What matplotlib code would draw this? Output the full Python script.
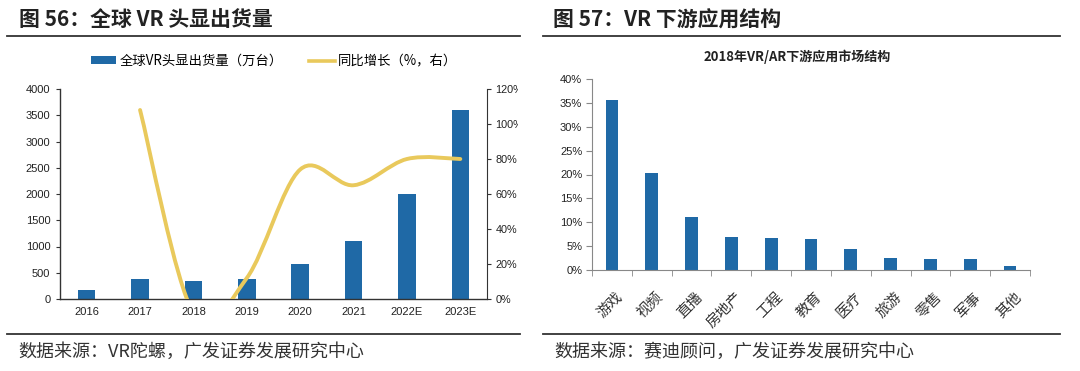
import numpy as np
import matplotlib
matplotlib.use("Agg")
import matplotlib.pyplot as plt
from matplotlib.path import Path
from matplotlib.patches import PathPatch, Patch
from matplotlib.lines import Line2D
from matplotlib.transforms import Bbox, TransformedBbox

plt.rcParams['font.family'] = ['Noto Sans CJK SC', 'DejaVu Sans']

# ---------------- data ----------------
years = ["2016", "2017", "2018", "2019", "2020", "2021", "2022E", "2023E"]
shipments = [180, 380, 350, 390, 670, 1110, 2000, 3600]          # 万台
growth = [np.nan, 1.08, -0.08, 0.12, 0.74, 0.65, 0.80, 0.80]       # 同比

apps = ["游戏", "视频", "直播", "房地产", "工程", "教育", "医疗", "旅游", "零售", "军事", "其他"]
shares = [0.355, 0.203, 0.111, 0.070, 0.067, 0.065, 0.045, 0.026, 0.023, 0.023, 0.008]

left_yticks = [0, 500, 1000, 1500, 2000, 2500, 3000, 3500, 4000]
right_yticks = [0, 0.2, 0.4, 0.6, 0.8, 1.0, 1.2]
share_ticks = [0, 0.05, 0.10, 0.15, 0.20, 0.25, 0.30, 0.35, 0.40]

BLUE = "#1F69A6"
YELLOW = "#E9C95C"
W, H = 1080, 371

fig = plt.figure(figsize=(W / 100, H / 100), dpi=100)


def fx(px):
    return px / W


def fy(py):
    return 1 - py / H


num_font = "Liberation Sans"

# ---------------- headers / rules ----------------
fig.text(fx(19), fy(20), "图 56：全球 VR 头显出货量", fontsize=15, fontweight="bold",
         color="#222222", va="center", ha="left")
fig.text(fx(553), fy(20), "图 57：VR 下游应用结构", fontsize=15, fontweight="bold",
         color="#222222", va="center", ha="left")
for x0, x1 in [(7, 520), (543, 1060)]:
    fig.add_artist(Line2D([fx(x0), fx(x1)], [fy(36), fy(36)], color="#333333", lw=1.3))
    fig.add_artist(Line2D([fx(x0), fx(x1)], [fy(334), fy(334)], color="#333333", lw=1.3))
fig.text(fx(18), fy(352), "数据来源：VR陀螺，广发证券发展研究中心", fontsize=13,
         color="#333333", va="center", ha="left")
fig.text(fx(554), fy(352), "数据来源：赛迪顾问，广发证券发展研究中心", fontsize=13,
         color="#333333", va="center", ha="left")

# ---------------- left chart ----------------
axL = fig.add_axes([fx(60), fy(299), fx(487) - fx(60), fy(89) - fy(299)])
x = np.arange(len(years))
axL.bar(x, shipments, width=0.33, color=BLUE, zorder=2)
axL.set_xlim(-0.5, len(years) - 0.5)
axL.set_ylim(0, 4000)
axL.set_yticks(left_yticks)
axL.set_yticklabels([str(v) for v in left_yticks], fontsize=8, family=num_font, color="#222222")
axL.set_xticks(x)
axL.set_xticklabels(years, fontsize=8, family=num_font, color="#222222")
axL.tick_params(axis="x", length=0, pad=6)
axL.tick_params(axis="y", length=3, direction="out", color="#333333", pad=4)
for s in ["top", "right"]:
    axL.spines[s].set_visible(False)
for s in ["left", "bottom"]:
    axL.spines[s].set_color("#333333")
    axL.spines[s].set_linewidth(1.0)

axR = axL.twinx()
axR.set_ylim(0, 1.2)
axR.set_yticks(right_yticks)
axR.set_yticklabels([f"{int(round(v * 100))}%" for v in right_yticks], fontsize=7.8,
                    family=num_font, color="#222222")
axR.tick_params(axis="y", length=3, direction="out", color="#333333", pad=3)
for s in ["top", "left", "bottom"]:
    axR.spines[s].set_visible(False)
axR.spines["right"].set_color("#333333")
clipbox = TransformedBbox(Bbox.from_extents(0, 0, fx(518), 1), fig.transFigure)
for lab in axR.get_yticklabels():
    lab.set_clip_box(clipbox)
    lab.set_clip_on(True)

# smoothed growth line (Catmull-Rom rendered as cubic Bezier)
gx = [xi for xi, g in zip(x, growth) if not np.isnan(g)]
gy = [g for g in growth if not np.isnan(g)]
pts = np.column_stack([gx, gy]).astype(float)
n = len(pts)
verts = [tuple(pts[0])]
codes = [Path.MOVETO]
for i in range(n - 1):
    p0 = pts[i - 1] if i > 0 else pts[i]
    p1 = pts[i]
    p2 = pts[i + 1]
    p3 = pts[i + 2] if i + 2 < n else pts[i + 1]
    c1 = p1 + (p2 - p0) / 6
    c2 = p2 - (p3 - p1) / 6
    verts += [tuple(c1), tuple(c2), tuple(p2)]
    codes += [Path.CURVE4] * 3
axR.add_patch(PathPatch(Path(verts, codes), facecolor="none", edgecolor=YELLOW,
                        lw=2.8, capstyle="round", zorder=3))

legend_handles = [Patch(facecolor=BLUE, edgecolor="none"),
                  Line2D([0], [0], color=YELLOW, lw=2.6)]
fig.legend(legend_handles, ["全球VR头显出货量（万台）", "同比增长（%，右）"],
           loc="center", bbox_to_anchor=(fx(274), fy(61)), ncol=2, frameon=False,
           fontsize=9.6, handlelength=1.9, handleheight=0.5, columnspacing=2.0,
           handletextpad=0.25)

# ---------------- right chart ----------------
ax2 = fig.add_axes([fx(592), fy(270), fx(1030) - fx(592), fy(79) - fy(270)])
x2 = np.arange(len(apps))
ax2.bar(x2, shares, width=0.32, color=BLUE, zorder=2)
ax2.set_xlim(-0.5, len(apps) - 0.5)
ax2.set_ylim(0, 0.40)
ax2.set_yticks(share_ticks)
ax2.set_yticklabels([f"{int(round(v * 100))}%" for v in share_ticks], fontsize=8,
                    family=num_font, color="#222222")
ax2.set_xticks(x2 + 0.1)
ax2.set_xticklabels(apps, fontsize=10.5, rotation=45, ha="right", rotation_mode="anchor",
                    color="#333333")
ax2.set_xticks(np.arange(len(apps) + 1) - 0.5, minor=True)
ax2.tick_params(axis="x", which="major", length=0, pad=14)
ax2.tick_params(axis="x", which="minor", length=4, direction="out", color="#888888")
ax2.tick_params(axis="y", length=4, direction="out", color="#888888", pad=3)
for s in ["top", "right"]:
    ax2.spines[s].set_visible(False)
for s in ["left", "bottom"]:
    ax2.spines[s].set_color("#888888")
fig.text(fx(797), fy(57), "2018年VR/AR下游应用市场结构", fontsize=9.4, fontweight="bold",
         color="#222222", ha="center", va="center")

fig.savefig("out.png", dpi=100, facecolor="white")
